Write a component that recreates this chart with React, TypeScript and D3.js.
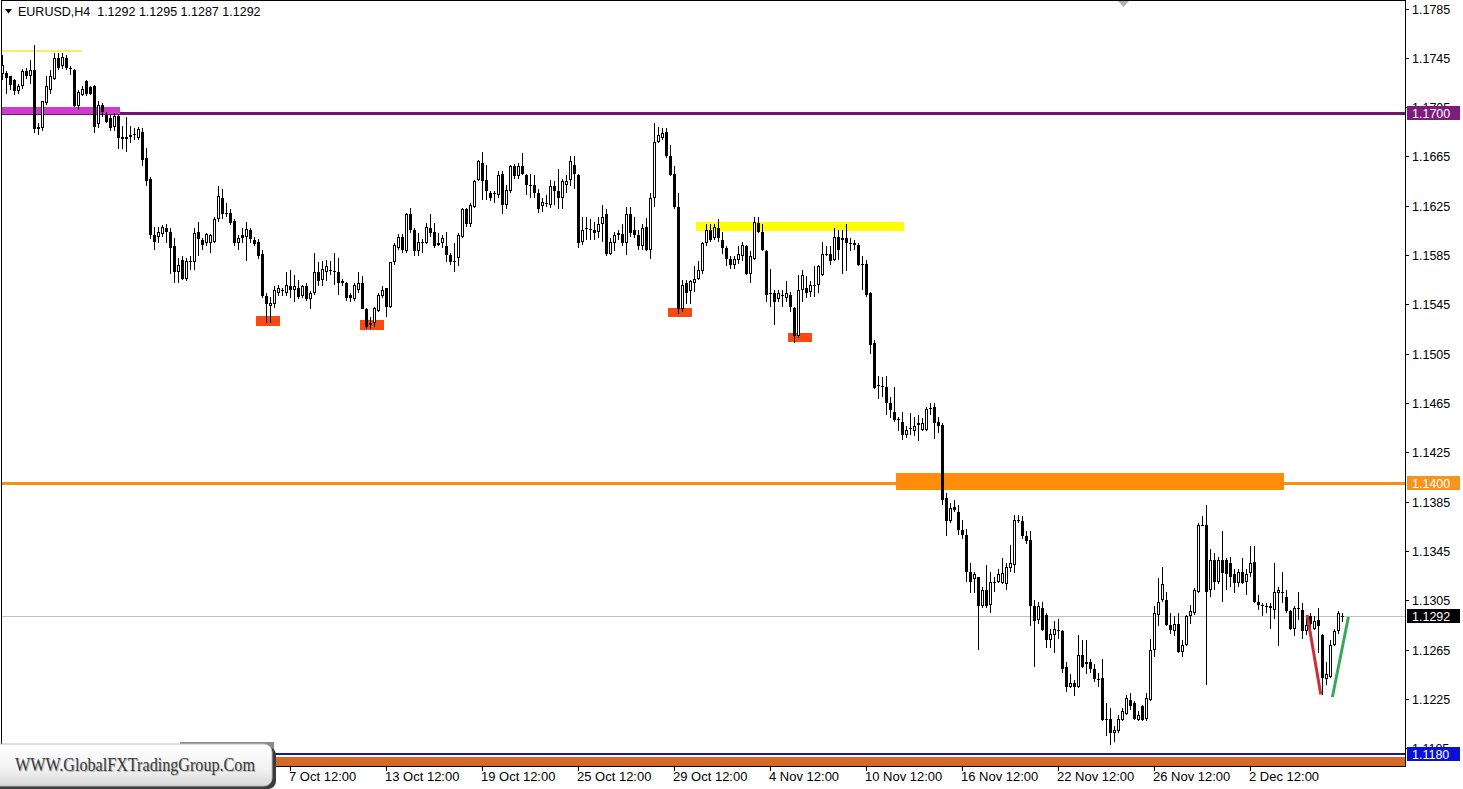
import React from "react";
import * as d3 from "d3";

const W = 1463;
const H = 789;
const PLOT_LEFT = 1;
const PLOT_RIGHT = 1405;
const PLOT_BOTTOM = 766;

// EURUSD H4 candles, values in pips above 1.1000 : [open, high, low, close]
const candlesSepOct: number[][] = [
  [732,747,727,739],[733,734,716,729],[730,730,719,723],[727,728,715,718],[718,724,716,722],
  [722,736,720,734],[734,737,728,730],[730,743,724,735],[735,755,684,687],[687,692,682,689],
  [688,710,686,710],[708,730,707,722],[719,735,716,730],[728,749,727,745],[745,749,735,737],
  [738,749,736,746],[745,747,735,737],[737,738,731,736],[735,736,705,706],[706,719,703,717],
  [715,722,714,720],[726,727,714,716],[721,722,715,716],[722,723,684,689],[691,710,688,707],
  [707,708,697,701],[699,701,692,693],[696,699,686,688],[689,700,686,698],[698,699,671,680],
  [681,690,671,679],[679,697,669,681],[681,690,676,682],[682,688,678,683],[680,689,678,687],
  [685,688,657,662],[664,672,641,645],[647,648,598,601],[601,608,589,596],[600,608,595,604],
  [602,609,600,608],[607,610,595,604],[604,607,570,591],[592,599,562,571],[571,583,562,577],
  [581,584,565,566],[566,583,564,580],[580,584,573,579],[579,607,573,603],[604,612,584,598],
  [597,599,589,593],[595,603,592,602],[595,602,587,601],[596,616,595,614],[614,641,612,633],
  [631,639,614,618],[619,627,616,619],[619,622,609,611],[613,614,592,595],[595,601,589,599],
  [601,607,595,599],[600,612,580,606],[605,607,595,598],[597,600,592,594],[596,598,582,584],
  [586,589,550,552],[552,554,530,545],[544,551,530,546],[545,560,542,557],[554,561,552,558],
  [557,558,552,557],[554,571,552,561],[560,573,550,557],[557,569,547,560],[558,565,549,551],
  [552,561,550,560],[560,562,548,549],[549,556,541,554],[554,587,553,571],[571,579,560,564],
  [565,580,560,574],[571,581,564,576],[573,580,569,573],[572,587,561,572],[571,583,553,562],
  [562,566,560,564],[562,563,548,550],[553,554,547,550],[549,562,548,561],[557,571,554,562],
  [562,568,541,541],[541,542,525,527],[528,535,525,530],[530,543,527,542],[540,554,539,553],
  [552,560,550,557],[558,558,535,543],[543,579,542,579],[579,595,577,593],[591,602,589,600],
  [600,602,587,589],[588,619,587,618],[618,623,603,605],[605,607,584,588],[588,603,584,596],
  [596,598,587,595],[595,611,594,608],[607,618,600,603],[604,611,591,592],[593,603,592,595],
  [595,601,591,599],[592,604,579,585],[585,587,577,579],[580,595,571,580],[583,603,576,601],
];

const candlesOctNov: number[][] = [
  [600,623,599,622],[622,623,608,610],[610,627,608,626],[624,646,623,645],[646,662,645,661],
  [660,669,630,645],[646,658,630,637],[635,637,629,631],[635,637,627,635],[634,653,631,650],
  [651,653,618,626],[626,642,622,638],[637,658,635,657],[657,659,647,649],[649,660,647,657],
  [657,668,650,651],[650,651,634,642],[642,651,631,642],[642,650,631,635],[635,639,619,622],
  [625,631,620,628],[627,634,624,627],[626,646,623,641],[641,645,626,637],[637,655,622,631],
  [631,647,622,645],[642,650,635,645],[646,665,641,661],[658,665,639,651],[650,651,591,595],
  [596,616,593,605],[607,616,597,607],[605,614,597,606],[605,612,597,603],[604,616,599,610],
  [610,626,596,616],[618,622,584,586],[586,599,585,596],[595,604,588,601],[601,605,597,603],
  [602,610,592,595],[595,624,585,618],[618,624,600,603],[605,616,599,601],[601,605,589,592],
  [592,610,589,607],[608,615,588,589],[589,635,582,631],[631,692,624,677],[677,689,676,682],
  [680,688,678,684],[685,688,664,665],[665,674,649,650],[651,657,622,624],[624,635,537,541],
  [541,565,539,561],[562,565,545,554],[556,565,545,564],[562,576,555,566],[566,580,565,573],
  [572,596,570,595],[595,610,592,605],[605,610,596,597],[599,610,597,608],[607,614,596,599],
  [597,604,586,591],[591,592,576,582],[582,584,574,577],[577,584,574,582],[581,592,578,586],
  [584,596,580,593],[592,593,569,570],[570,588,562,584],[582,616,581,612],[611,616,603,604],
  [604,610,588,589],[588,589,547,553],[554,574,543,554],[554,557,528,547],[549,557,547,554],
  [553,557,543,552],[550,564,547,554],[553,555,539,543],[542,543,514,519],[519,569,518,557],
  [557,573,547,569],[558,568,550,554],[555,564,551,561],[561,576,551,561],[561,577,554,576],
  [569,596,568,586],[586,592,584,586],[586,592,577,580],[581,607,580,600],[600,605,581,589],
  [597,605,570,599],[599,610,572,595],[595,599,588,595],[595,597,589,593],[593,595,576,577],
  [578,584,557,578],[578,581,551,553],[554,555,505,512],[514,516,476,477],[480,487,468,480],
  [479,486,470,478],[478,487,455,465],[465,470,453,459],[458,478,450,451],[452,454,442,452],
  [450,458,435,439],[439,446,437,443],[445,457,439,445],
];

const candlesNovDec: number[][] = [
  [442,454,438,446],[447,455,434,449],[443,453,442,449],[443,462,442,460],[461,465,455,461],
  [462,465,436,449],[450,454,441,446],[447,449,382,386],[388,392,357,369],[369,384,368,380],
  [381,386,377,378],[377,382,358,362],[362,370,355,358],[358,363,320,328],[328,335,311,320],
  [322,328,311,326],[324,324,265,300],[300,316,299,313],[313,334,299,300],[301,328,295,320],
  [320,324,312,320],[320,330,319,326],[319,339,318,327],[318,335,313,332],[331,350,328,335],
  [334,374,327,370],[370,374,368,370],[369,373,355,357],[357,361,351,353],[354,361,284,300],
  [300,305,251,288],[289,304,286,300],[299,304,280,281],[293,295,266,273],[273,282,266,278],
  [277,288,262,282],[281,290,274,281],[280,281,246,249],[251,255,231,235],[235,245,234,238],
  [238,240,227,235],[235,277,234,261],[261,273,250,251],[253,273,245,255],[255,257,246,249],
  [249,253,239,241],[241,246,235,241],[242,257,207,208],[209,222,195,208],[209,218,188,197],
  [197,203,190,200],[199,212,197,209],[208,218,207,215],[213,228,212,226],[224,230,216,219],
  [222,223,208,209],[208,215,207,212],[219,220,207,208],[209,230,207,226],[224,274,223,265],
  [265,300,259,295],[293,323,284,304],[305,332,304,318],[305,312,284,285],[285,295,278,281],
  [280,292,276,286],[286,295,262,263],[263,273,259,269],[269,293,268,292],[292,301,286,296],
  [295,315,293,313],[312,368,311,366],[366,373,365,366],[366,382,236,312],[313,347,308,338],
  [338,343,313,320],[320,340,318,338],[338,361,304,327],[338,339,313,326],[335,340,316,324],
  [326,330,311,319],[319,330,316,328],[328,339,318,319],[320,330,309,326],[327,349,324,335],
  [336,349,303,304],[304,309,297,301],[301,303,292,300],[300,303,295,300],[300,303,282,299],
  [297,335,290,312],[311,316,268,313],[312,328,303,312],[308,313,295,296],[296,297,281,282],
  [282,300,276,299],[299,312,289,299],[297,303,274,280],[280,293,277,285],[292,295,281,286],
  [282,292,281,288],[289,299,262,284],[277,278,228,242],[241,255,236,245],[243,273,242,269],
  [269,282,268,280],[280,296,278,295],[292,295,287,292],
];

const yTickValues = [1.1785, 1.1745, 1.1705, 1.1665, 1.1625, 1.1585, 1.1545, 1.1505, 1.1465, 1.1425, 1.1385, 1.1345, 1.1305, 1.1265, 1.1225, 1.1185];
const dateLabels = ["7 Oct 12:00", "13 Oct 12:00", "19 Oct 12:00", "25 Oct 12:00", "29 Oct 12:00", "4 Nov 12:00", "10 Nov 12:00", "16 Nov 12:00", "22 Nov 12:00", "26 Nov 12:00", "2 Dec 12:00"];
const dateBars = [72, 96, 120, 144, 168, 192, 216, 240, 264, 288, 312];

// horizontal levels
const levelPrices = [1.17, 1.14, 1.118, 1.1292];
const levelColors = ["#6e176f", "#ff8c0a", "#1b1b8e", "#c0c0c0"];
const levelWidths = [3, 3, 2, 1];

// rectangles: [barFrom, barTo, priceTop, priceBottom]
const zoneRects = [
  [0, 29, 1.17048, 1.16995],
  [174, 225, 1.16118, 1.16045],
  [224, 320, 1.14083, 1.13945],
  [67, 352, 1.11775, 1.1165],
  [64, 69, 1.15355, 1.15275],
  [90, 95, 1.15322, 1.15243],
  [167, 172, 1.15421, 1.15348],
  [197, 202, 1.15219, 1.15146],
];
const zoneColors = ["#cf3bcf", "#ffff00", "#ff8c0a", "#d46a26", "#fa4a14", "#fa4a14", "#fa4a14", "#fa4a14"];

const yellowLine = [0, 20, 1.17502];

// trend lines: [bar, price]
const redLine = [[326.3, 1.1293], [329.7, 1.12285]];
const greenLine = [[332.6, 1.12265], [336.6, 1.12915]];

const tagPrices = [1.17, 1.14, 1.1292, 1.118];
const tagLabels = ["1.1700", "1.1400", "1.1292", "1.1180"];
const tagColors = ["#7d1b7e", "#f7941d", "#000000", "#0a10d8"];

const header = "EURUSD,H4  1.1292 1.1295 1.1287 1.1292";
const watermark = "WWW.GlobalFXTradingGroup.Com";

const FONT = "'Liberation Sans', Arial, sans-serif";

export default function App() {
  const raw = [...candlesSepOct, ...candlesOctNov, ...candlesNovDec];
  const candles = raw.map(([o, h, l, c]) => ({
    o: 1.1 + o / 1e4,
    h: 1.1 + Math.max(h, o, c) / 1e4,
    l: 1.1 + Math.min(l, o, c) / 1e4,
    c: 1.1 + c / 1e4,
  }));
  const N = candles.length;
  const x = d3.scaleLinear().domain([0, N - 1]).range([2, 1342]);
  const y = d3.scaleLinear().domain([1.11706, 1.17919]).range([PLOT_BOTTOM, 0]);

  const line = d3
    .line<number[]>()
    .x((d) => x(d[0]))
    .y((d) => y(d[1]));

  return (
    <div style={{ position: "fixed", left: 0, top: 0, width: W, height: H, background: "#fff" }}>
      <svg width={W} height={H} style={{ display: "block" }}>
        <defs>
          <clipPath id="plot">
            <rect x={PLOT_LEFT} y={0} width={PLOT_RIGHT - PLOT_LEFT} height={PLOT_BOTTOM} />
          </clipPath>
          <linearGradient id="wm" x1="0" y1="0" x2="0" y2="1">
            <stop offset="0" stopColor="#ffffff" />
            <stop offset="0.6" stopColor="#f2f2f2" />
            <stop offset="1" stopColor="#d8d8d8" />
          </linearGradient>
        </defs>
        <rect x={0} y={0} width={W} height={H} fill="#fff" />
        <g clipPath="url(#plot)">
          {levelPrices.map((p, i) => (
            <line
              key={"lv" + i}
              x1={PLOT_LEFT}
              x2={PLOT_RIGHT}
              y1={Math.round(y(p)) + (levelWidths[i] % 2 ? 0.5 : 0)}
              y2={Math.round(y(p)) + (levelWidths[i] % 2 ? 0.5 : 0)}
              stroke={levelColors[i]}
              strokeWidth={levelWidths[i]}
            />
          ))}
          {zoneRects.map((z, i) => {
            const x0 = Math.max(Math.round(x(z[0])) - 2, PLOT_LEFT);
            const x1 = Math.min(Math.round(x(z[1])) + 2, PLOT_RIGHT);
            const y0 = Math.round(y(z[2]));
            const y1 = Math.round(y(z[3]));
            return <rect key={"z" + i} x={x0} y={y0} width={x1 - x0} height={y1 - y0} fill={zoneColors[i]} />;
          })}
          <line
            x1={Math.max(PLOT_LEFT, x(yellowLine[0]) - 2)}
            x2={x(yellowLine[1])}
            y1={Math.round(y(yellowLine[2]))}
            y2={Math.round(y(yellowLine[2]))}
            stroke="#f2f06a"
            strokeWidth={2}
          />
          {candles.map((d, i) => {
            const cx = Math.round(x(i));
            const yh = Math.round(y(d.h));
            const yl = Math.round(y(d.l));
            const top = Math.round(y(Math.max(d.o, d.c)));
            const bot = Math.round(y(Math.min(d.o, d.c)));
            const bull = d.c > d.o;
            const bodyH = bot - top;
            return (
              <g key={"c" + i}>
                <line x1={cx + 0.5} x2={cx + 0.5} y1={yh} y2={Math.max(yl, yh + 1)} stroke="#000" strokeWidth={1} />
                {bodyH <= 1 ? (
                  <rect x={cx - 1} y={top} width={3} height={1} fill="#000" />
                ) : bull ? (
                  <rect x={cx - 0.5} y={top + 0.5} width={2} height={bodyH - 1} fill="#fff" stroke="#000" strokeWidth={1} />
                ) : (
                  <rect x={cx - 1} y={top} width={3} height={bodyH} fill="#000" />
                )}
              </g>
            );
          })}
          <path d={line(redLine) || ""} stroke="#c8303a" strokeWidth={3} fill="none" />
          <path d={line(greenLine) || ""} stroke="#3aa85a" strokeWidth={3} fill="none" />
        </g>

        <line x1={PLOT_LEFT + 0.5} x2={PLOT_LEFT + 0.5} y1={0} y2={PLOT_BOTTOM} stroke="#000" />
        <line x1={PLOT_RIGHT + 0.5} x2={PLOT_RIGHT + 0.5} y1={0} y2={PLOT_BOTTOM + 1} stroke="#000" />
        <line x1={PLOT_LEFT} x2={PLOT_RIGHT} y1={0.5} y2={0.5} stroke="#000" />
        <line x1={PLOT_LEFT} x2={PLOT_RIGHT} y1={PLOT_BOTTOM + 0.5} y2={PLOT_BOTTOM + 0.5} stroke="#000" />

        <path d="M1118,1 L1129,1 L1123.5,7 Z" fill="#b0b0b0" />

        {yTickValues.map((v, i) => {
          const yy = Math.round(y(v));
          return (
            <g key={"yt" + i}>
              <line x1={PLOT_RIGHT} x2={PLOT_RIGHT + 4} y1={yy + 0.5} y2={yy + 0.5} stroke="#000" />
              <text x={1412} y={yy + 4.5} fontFamily={FONT} fontSize={12.5} fill="#000">
                {v.toFixed(4)}
              </text>
            </g>
          );
        })}
        {tagPrices.map((p, i) => {
          const yy = Math.round(y(p));
          return (
            <g key={"tag" + i}>
              <rect x={1407} y={yy - 7} width={53} height={14} fill={tagColors[i]} />
              <text x={1412} y={yy + 4.5} fontFamily={FONT} fontSize={12.5} fill="#fff">
                {tagLabels[i]}
              </text>
            </g>
          );
        })}

        {dateBars.map((b, i) => {
          const xx = Math.round(x(b));
          return (
            <g key={"xt" + i}>
              <line x1={xx + 0.5} x2={xx + 0.5} y1={PLOT_BOTTOM} y2={PLOT_BOTTOM + 5} stroke="#000" />
              <text x={xx - 1} y={781} fontFamily={FONT} fontSize={13} fill="#000">
                {dateLabels[i]}
              </text>
            </g>
          );
        })}

        <path d="M5,9 L12,9 L8.5,13.5 Z" fill="#000" />
        <text x={18} y={16} fontFamily={FONT} fontSize={12.5} fill="#000" style={{ whiteSpace: "pre" }}>
          {header}
        </text>

        <rect x={180} y={742} width={94} height={10} fill="#8a8a8a" />
        <rect x={-10} y={747} width={286} height={42} rx={8} fill="#3c3c3c" />
        <rect x={-10} y={744} width={282} height={42} rx={8} fill="url(#wm)" stroke="#bdbdbd" strokeWidth={1} />
        <text x={16} y={772} fontFamily="'Liberation Serif', 'Times New Roman', serif" fontSize={19} fill="#bbb" textLength={240} lengthAdjust="spacingAndGlyphs">
          {watermark}
        </text>
        <text x={15} y={771} fontFamily="'Liberation Serif', 'Times New Roman', serif" fontSize={19} fill="#3a3a3a" textLength={240} lengthAdjust="spacingAndGlyphs">
          {watermark}
        </text>
      </svg>
    </div>
  );
}
